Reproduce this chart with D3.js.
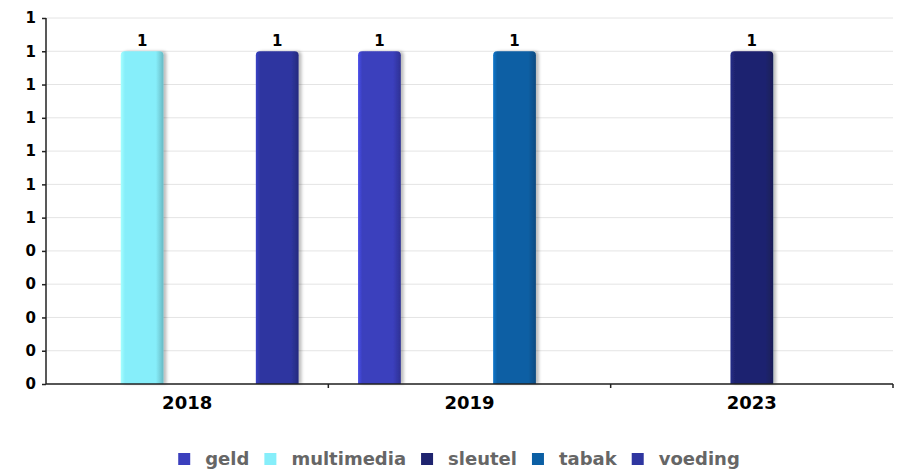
<!DOCTYPE html>
<html>
<head>
<meta charset="utf-8">
<script src="https://cdn.jsdelivr.net/npm/d3@7"></script>
<style>
  body { margin: 0; background: #fff; }
  svg text { font-family: "DejaVu Sans", sans-serif; font-weight: bold; }
</style>
</head>
<body>
<svg id="chart" width="903" height="471"></svg>
<script>
var years = ["2018", "2019", "2023"]
var series = ["geld", "multimedia", "sleutel", "tabak", "voeding"]
var geld = [0, 1, 0]
var multimedia = [1, 0, 0]
var sleutel = [0, 0, 1]
var tabak = [0, 1, 0]
var voeding = [1, 0, 0]
var yTicks = [0, 0.1, 0.2, 0.3, 0.4, 0.5, 0.6, 0.7, 0.8, 0.9, 1.0, 1.1]
var colors = ["#3b3fbd", "#86eefa", "#1f246f", "#0b5fa4", "#2f36a0"]

var values = {geld: geld, multimedia: multimedia, sleutel: sleutel, tabak: tabak, voeding: voeding}

var svg = d3.select("#chart")
var plotLeft = 46, plotRight = 893, plotTop = 18, plotBottom = 384

var x0 = d3.scaleBand().domain(years).range([plotLeft, plotRight]).padding(0)
var x1 = d3.scaleBand().domain(series).range([0, x0.bandwidth()])
           .paddingInner(0.05).paddingOuter(0.66)
var y = d3.scaleLinear().domain([0, 1.1]).range([plotBottom, plotTop])
var color = d3.scaleOrdinal().domain(series).range(colors)

var defs = svg.append("defs")
series.forEach(function(s, i) {
    var c = d3.color(colors[i])
    var g = defs.append("linearGradient").attr("id", "grad" + i)
                .attr("x1", "0%").attr("x2", "100%").attr("y1", "0%").attr("y2", "0%")
    g.append("stop").attr("offset", "0%").attr("stop-color", c.brighter(0.6))
    g.append("stop").attr("offset", "10%").attr("stop-color", c)
    g.append("stop").attr("offset", "82%").attr("stop-color", c)
    g.append("stop").attr("offset", "100%").attr("stop-color", c.darker(0.7))
})
var f = defs.append("filter").attr("id", "shadow")
            .attr("x", "-20%").attr("y", "-20%").attr("width", "150%").attr("height", "140%")
f.append("feDropShadow").attr("dx", 3).attr("dy", 0).attr("stdDeviation", 1.5)
 .attr("flood-color", "#000").attr("flood-opacity", 0.25)

// grid
svg.selectAll("line.grid")
    .data(yTicks).enter()
    .append("line")
        .attr("class", "grid")
        .attr("x1", plotLeft).attr("x2", plotRight)
        .attr("y1", function(d){ return y(d) }).attr("y2", function(d){ return y(d) })
        .style("stroke", "#e4e4e4").style("stroke-width", 1)

// bars
var bars = []
years.forEach(function(yr, j) {
    series.forEach(function(s, i) {
        if (values[s][j] > 0) bars.push({year: yr, key: s, idx: i, value: values[s][j]})
    })
})

function barPath(d) {
    var x = x0(d.year) + x1(d.key), w = x1.bandwidth()
    var yt = y(d.value), yb = y(0), r = 4
    return "M" + x + "," + yb + "V" + (yt + r) + "Q" + x + "," + yt + " " + (x + r) + "," + yt +
           "H" + (x + w - r) + "Q" + (x + w) + "," + yt + " " + (x + w) + "," + (yt + r) + "V" + yb + "Z"
}

svg.selectAll("path.bar")
    .data(bars).enter()
    .append("path")
        .attr("class", "bar")
        .attr("d", barPath)
        .attr("fill", function(d){ return "url(#grad" + d.idx + ")" })
        .attr("filter", "url(#shadow)")

svg.selectAll("text.val")
    .data(bars).enter()
    .append("text")
        .attr("class", "val")
        .attr("x", function(d){ return x0(d.year) + x1(d.key) + x1.bandwidth() / 2 })
        .attr("y", function(d){ return y(d.value) - 5 })
        .attr("text-anchor", "middle")
        .style("font-size", "15px")
        .text(function(d){ return d3.format(".0f")(d.value) })

// y axis
var yAxis = svg.append("g").attr("transform", "translate(" + plotLeft + ",0)")
    .call(d3.axisLeft(y).tickValues(yTicks).tickSize(4).tickFormat(d3.format(".0f")))
yAxis.selectAll("text").style("font-size", "15px").attr("fill", "#000").attr("x", -10)
yAxis.select(".domain").attr("d", "M0," + plotTop + "V" + plotBottom).style("stroke", "#222").style("stroke-width", 1.5)
yAxis.selectAll(".tick line").style("stroke", "#222").style("stroke-width", 1.5)

// x axis
var xAxis = svg.append("g").attr("transform", "translate(0," + plotBottom + ")")
    .call(d3.axisBottom(x0).tickSize(0).tickPadding(12))
xAxis.select(".domain").attr("d", "M" + plotLeft + ",0H" + plotRight).style("stroke", "#222").style("stroke-width", 1.5)
xAxis.selectAll("text").style("font-size", "18px").attr("fill", "#000")
xAxis.selectAll("line.sep")
    .data(years).enter()
    .append("line")
        .attr("class", "sep")
        .attr("x1", function(d){ return x0(d) + x0.bandwidth() })
        .attr("x2", function(d){ return x0(d) + x0.bandwidth() })
        .attr("y1", 0).attr("y2", 4)
        .style("stroke", "#222").style("stroke-width", 1.5)

// legend, laid out from measured text widths and centred
var lg = svg.selectAll("g.leg")
    .data(series).enter()
    .append("g")
        .attr("class", "leg")
lg.append("rect")
    .attr("y", 453)
    .attr("width", 12).attr("height", 12)
    .style("fill", function(d){ return color(d) })
lg.append("text")
    .attr("x", 27).attr("y", 465)
    .style("font-size", "18px")
    .style("fill", "#666")
    .text(function(d){ return d })

var widths = []
lg.select("text").each(function(){ widths.push(this.getComputedTextLength()) })
var total = d3.sum(widths) + widths.length * 27 + (widths.length - 1) * 15
var cx = 459 - total / 2
lg.attr("transform", function(d, i){
    var xx = cx
    cx += 27 + widths[i] + 15
    return "translate(" + xx + ",0)"
})
</script>
</body>
</html>
